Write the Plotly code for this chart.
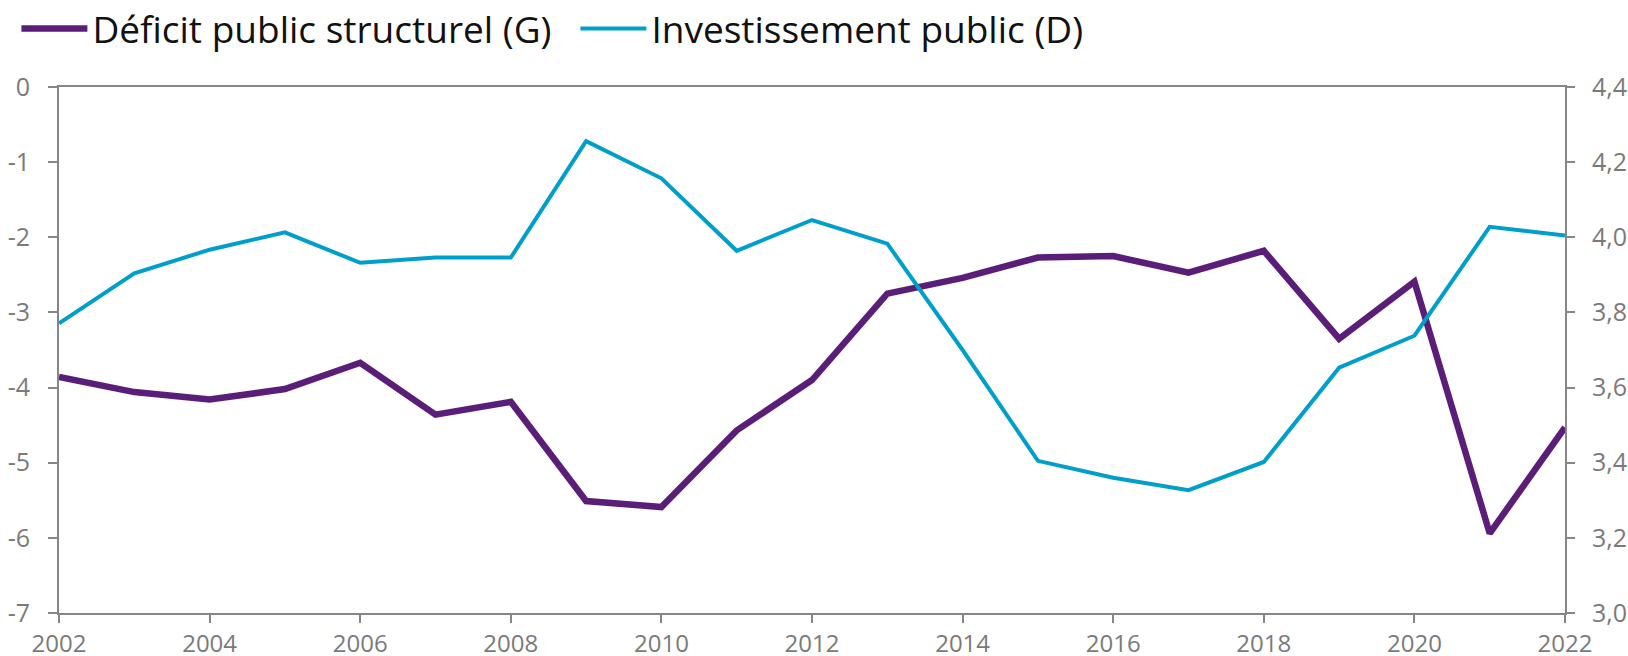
import plotly.graph_objects as go

years = list(range(2002, 2023))
deficit = [-3.86, -4.06, -4.16, -4.02, -3.67, -4.36, -4.19, -5.51, -5.59, -4.57,
           -3.90, -2.75, -2.54, -2.27, -2.25, -2.47, -2.18, -3.35, -2.59, -5.94, -4.53]
invest = [3.771, 3.904, 3.967, 4.013, 3.932, 3.946, 3.946, 4.256, 4.157, 3.964,
          4.046, 3.983, 3.700, 3.405, 3.360, 3.327, 3.402, 3.653, 3.738, 4.028, 4.005]
left_ticks = [0, -1, -2, -3, -4, -5, -6, -7]
right_ticks = [3.0, 3.2, 3.4, 3.6, 3.8, 4.0, 4.2, 4.4]
right_labels = ["3,0", "3,2", "3,4", "3,6", "3,8", "4,0", "4,2", "4,4"]
x_ticks = list(range(2002, 2023, 2))

PURPLE = "#5a1e78"
BLUE = "#009fcb"
GREY = "#868686"
LABEL = "#7a7a7a"
FONT = "Open Sans"
TICKSIZE = 25
W, H = 1628, 656

fig = go.Figure()
fig.add_trace(go.Scatter(x=years, y=deficit, mode="lines", name="Déficit public structurel (G)",
                         line=dict(color=PURPLE, width=6.5), yaxis="y"))
fig.add_trace(go.Scatter(x=years, y=invest, mode="lines", name="Investissement public (D)",
                         line=dict(color=BLUE, width=4), yaxis="y2"))

fig.update_layout(
    width=W, height=H,
    margin=dict(l=59, r=63, t=87, b=43, autoexpand=False),
    paper_bgcolor="white", plot_bgcolor="white",
    font=dict(family=FONT, color=LABEL, size=TICKSIZE),
    showlegend=True,
    legend=dict(orientation="h", x=16.4 / W, xref="container", y=1 - 29 / H, yref="container",
                xanchor="left", yanchor="middle",
                font=dict(size=37, color="#111111", family=FONT), itemwidth=66,
                entrywidth=478, entrywidthmode="pixels",
                bgcolor="rgba(0,0,0,0)", tracegroupgap=0),
    xaxis=dict(range=[2002, 2022], tickvals=x_ticks, ticktext=[str(v) for v in x_ticks],
               showgrid=False, zeroline=False, showline=True, linecolor=GREY, linewidth=2,
               mirror=True, ticks="outside", ticklen=8, tickwidth=2, tickcolor=GREY,
               ticklabelstandoff=0, tickfont=dict(size=24, color=LABEL)),
    yaxis=dict(range=[-7, 0], tickvals=left_ticks, ticktext=[str(v) for v in left_ticks],
               showgrid=False, zeroline=False, showline=True, linecolor=GREY, linewidth=2,
               ticks="outside", ticklen=9, tickwidth=2, tickcolor=GREY,
               ticklabelstandoff=13, tickfont=dict(size=TICKSIZE, color=LABEL)),
    yaxis2=dict(range=[3.0, 4.4], tickvals=right_ticks, ticktext=right_labels, overlaying="y",
                side="right", showgrid=False, zeroline=False, showline=True, linecolor=GREY,
                linewidth=2, ticks="outside", ticklen=8, tickwidth=2, tickcolor=GREY,
                ticklabelstandoff=12, tickfont=dict(size=TICKSIZE, color=LABEL)),
)

fig.write_html("out.html", config={"displayModeBar": False},
               post_script="document.body.style.margin='0';document.body.style.overflow='hidden';")
